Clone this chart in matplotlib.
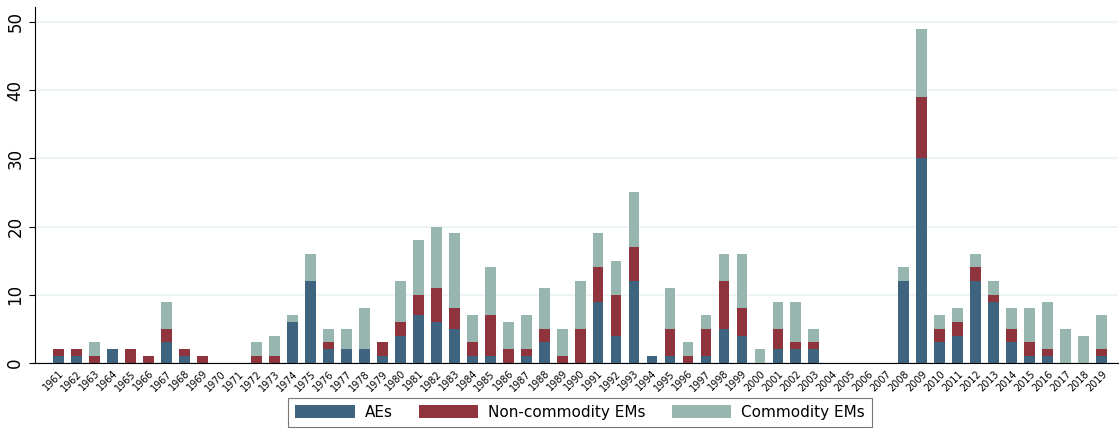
import matplotlib.pyplot as plt
import numpy as np

# Dados
anos = list(range(1961, 2020))
aes = [1, 1, 0, 2, 0, 0, 3, 1, 0, 0, 0, 0, 0, 6, 12, 2, 2, 2, 1, 4,
       7, 6, 5, 1, 1, 0, 1, 3, 0, 0, 9, 4, 12, 1, 1, 0, 1, 5, 4, 0,
       2, 2, 2, 0, 0, 0, 0, 12, 30, 3, 4, 12, 9, 3, 1, 1, 0, 0, 1]
non_comm = [1, 1, 1, 0, 2, 1, 2, 1, 1, 0, 0, 1, 1, 0, 0, 1, 0, 0, 2, 2,
            3, 5, 3, 2, 6, 2, 1, 2, 1, 5, 5, 6, 5, 0, 4, 1, 4, 7, 4, 0,
            3, 1, 1, 0, 0, 0, 0, 0, 9, 2, 2, 2, 1, 2, 2, 1, 0, 0, 1]
comm = [0, 0, 2, 0, 0, 0, 4, 0, 0, 0, 0, 2, 3, 1, 4, 2, 3, 6, 0, 6,
        8, 9, 11, 4, 7, 4, 5, 6, 4, 7, 5, 5, 8, 0, 6, 2, 2, 4, 8, 2,
        4, 6, 2, 0, 0, 0, 0, 2, 10, 2, 2, 2, 2, 3, 5, 7, 5, 4, 5]

aes = np.array(aes)
non_comm = np.array(non_comm)
comm = np.array(comm)
x = np.arange(len(anos))

fig = plt.figure(figsize=(11.2, 4.3), dpi=100)
ax = fig.add_axes([0.031, 0.156, 0.967, 0.828])

w = 0.6
ax.bar(x, aes, w, color="#3e6480", label="AEs", zorder=2)
ax.bar(x, non_comm, w, bottom=aes, color="#8f343d", label="Non-commodity EMs", zorder=2)
ax.bar(x, comm, w, bottom=aes + non_comm, color="#97b6b0", label="Commodity EMs", zorder=2)

ax.set_xlim(-1.33, len(anos) - 1 + 0.9)
ax.set_ylim(0, 52.2)
ax.set_yticks([0, 10, 20, 30, 40, 50])
ax.set_xticks(x)
ax.set_xticklabels([str(a) for a in anos], rotation=45, ha="right",
                   rotation_mode="anchor", fontsize=7)
for lab in ax.get_yticklabels():
    lab.set_rotation(90)
    lab.set_va("center")
ax.tick_params(axis="y", labelsize=12, length=4)
ax.tick_params(axis="x", length=0, pad=4)
ax.yaxis.grid(True, color="#eaf2f3", linewidth=1.2, zorder=0)
ax.set_axisbelow(True)
for s in ["top", "right"]:
    ax.spines[s].set_visible(False)
ax.spines["left"].set_color("black")
ax.spines["bottom"].set_color("black")

leg = fig.legend(loc="lower center", bbox_to_anchor=(0.518, -0.01), ncol=3,
                 fontsize=11, frameon=True, fancybox=False, edgecolor="#555555",
                 handlelength=3.9, handleheight=0.9, handletextpad=0.65,
                 columnspacing=1.7, borderpad=0.45)
leg.get_frame().set_linewidth(0.8)

plt.savefig("out.png")
